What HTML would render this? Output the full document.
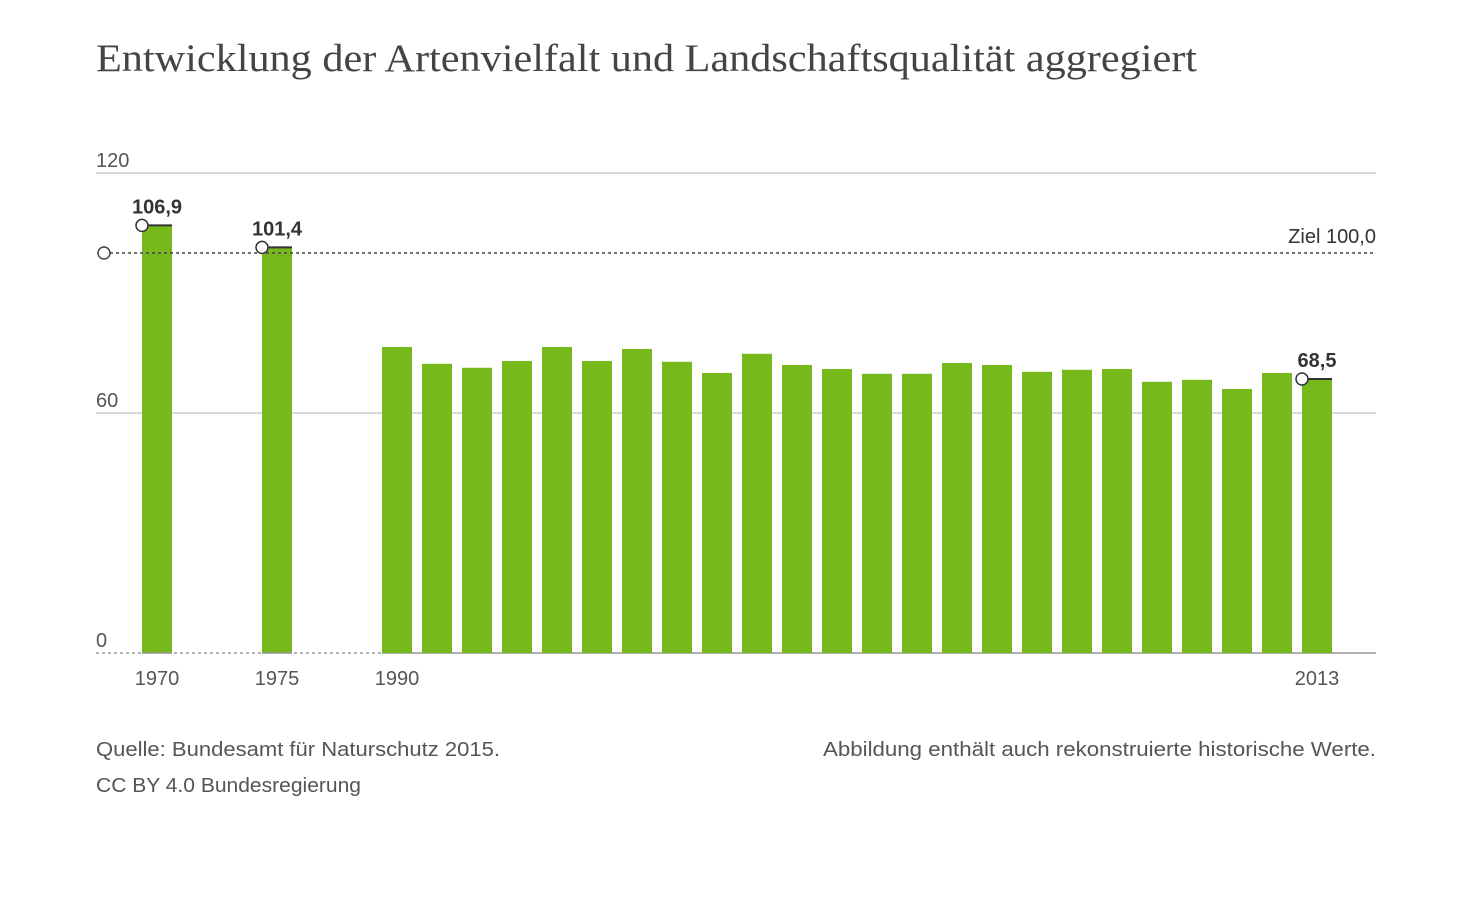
<!DOCTYPE html>
<html><head><meta charset="utf-8"><style>
body{margin:0;background:#fff;width:1474px;height:907px;overflow:hidden;font-family:"Liberation Sans",sans-serif;}
</style></head><body>
<svg width="1474" height="907">
<text x="96" y="71" font-family="Liberation Serif,serif" font-size="39" fill="#444" textLength="1101" lengthAdjust="spacingAndGlyphs">Entwicklung der Artenvielfalt und Landschaftsqualität aggregiert</text>
<g id="grid"></g><g id="bars"></g><g id="ann"></g>
<text x="96" y="756" font-size="20" fill="#555" textLength="404" lengthAdjust="spacingAndGlyphs">Quelle: Bundesamt für Naturschutz 2015.</text>
<text x="96" y="792" font-size="20" fill="#555" textLength="265" lengthAdjust="spacingAndGlyphs">CC BY 4.0 Bundesregierung</text>
<text x="823" y="756" font-size="20" fill="#555" textLength="553" lengthAdjust="spacingAndGlyphs">Abbildung enthält auch rekonstruierte historische Werte.</text>
</svg>
<script>
const years=[1970,1975,1990,1991,1992,1993,1994,1995,1996,1997,1998,1999,2000,2001,2002,2003,2004,2005,2006,2007,2008,2009,2010,2011,2012,2013];
const values=[106.9,101.4,76.5,72.3,71.3,73,76.5,73,76,72.8,70,74.8,72,71,69.8,69.8,72.5,72,70.3,70.8,71,67.8,68.3,66,70,68.5];
const yTicks=[0,60,120];
const labelled=["106,9","101,4","68,5"];
const labelledIdx=[0,1,25];
const xLabelIdx=[0,1,2,25];
const target=100;
const NS="http://www.w3.org/2000/svg";
function y(v){return 653-v*4;}
function slot(i){return i<2?142+i*120:382+(i-2)*40;}
function mk(p,tag,a,t){const e=document.createElementNS(NS,tag);for(const k in a)e.setAttribute(k,a[k]);if(t!==undefined)e.textContent=t;document.getElementById(p).appendChild(e);return e;}
yTicks.forEach(v=>{
 if(v>0){const l=mk('grid','line',{x1:96,x2:1376,y1:y(v),y2:y(v),stroke:'#ccc','stroke-width':1.5});
 
 }
 const t=mk('grid','text',{x:96,y:y(v)-6,'font-size':20,fill:'#555'},v);
 
 
});
const d=mk('grid','line',{x1:96,x2:382,y1:653,y2:653,stroke:'#999','stroke-width':1.5,'stroke-dasharray':'3,3'});


const b=mk('grid','line',{x1:382,x2:1376,y1:653,y2:653,stroke:'#999','stroke-width':1.5});


values.forEach((v,i)=>{
 const x=slot(i);
 const r=mk('bars','rect',{x:x,y:y(v),width:30,height:653-y(v),fill:'#76b91a'});
 
 
 if(i<2){const s=mk('bars','line',{x1:x,x2:x+30,y1:653,y2:653,stroke:'#999','stroke-width':1.5});
 
 }
});
xLabelIdx.forEach(i=>{
 const t=mk('ann','text',{x:slot(i)+15,y:685,'font-size':20,fill:'#555','text-anchor':'middle'},years[i]);
 
 
});
const tl=mk('ann','line',{x1:104,x2:1376,y1:y(target),y2:y(target),stroke:'#444','stroke-width':1.5,'stroke-dasharray':'3,3'});


const tc=mk('ann','circle',{cx:104,cy:y(target),r:6,fill:'#fff',stroke:'#444','stroke-width':1.5});


const tt=mk('ann','text',{x:1376,y:y(target)-10,'font-size':20,fill:'#333','text-anchor':'end'},'Ziel 100,0');


labelledIdx.forEach((i,k)=>{
 const x=slot(i),yy=y(values[i]);
 const l=mk('ann','line',{x1:x,x2:x+30,y1:yy,y2:yy,stroke:'#333','stroke-width':2});
 
 
 const c=mk('ann','circle',{cx:x,cy:yy,r:6,fill:'#fff',stroke:'#333','stroke-width':1.5});
 
 
 const t=mk('ann','text',{x:x+15,y:yy-12,'font-size':20,'font-weight':'bold',fill:'#333','text-anchor':'middle'},labelled[k]);
 
 
});
</script>
</body></html>
